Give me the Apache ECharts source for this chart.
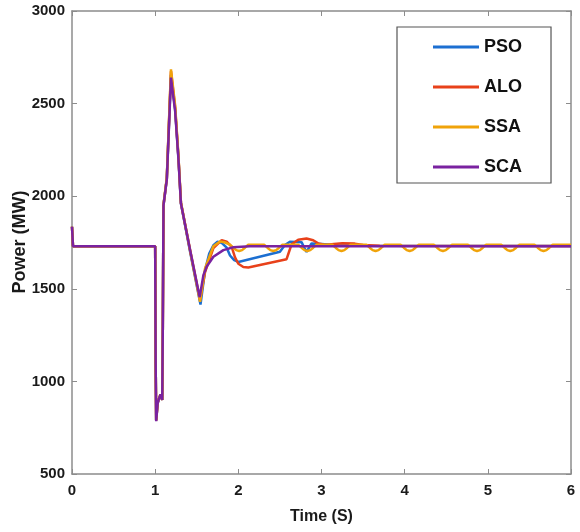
<!DOCTYPE html>
<html><head><meta charset="utf-8">
<script src="https://cdn.jsdelivr.net/npm/echarts@6/dist/echarts.min.js"></script>
<style>html,body{margin:0;padding:0;background:#fff}#c{width:580px;height:532px}</style>
</head><body><div id="c"></div><script>
// Tick values
const xTicks = [0, 1, 2, 3, 4, 5, 6];
const yTicks = [500, 1000, 1500, 2000, 2500, 3000];
const seriesNames = ['PSO', 'ALO', 'SSA', 'SCA'];
const xTitle = 'Time (S)';
const yTitle = 'Power (MW)';

// [time (s), power (MW)]
const psoData = [[0,1835],[0.012,1730],[1.0,1730],[1.006,1100],[1.012,790],[1.03,885],[1.045,905],[1.065,930],[1.085,900],[1.092,1300],[1.1,1950],[1.14,2095],[1.19,2655],[1.2,2660],[1.24,2470],[1.28,2205],[1.31,1960],[1.42,1700],[1.545,1415],[1.6,1600],[1.65,1690],[1.7,1735],[1.75,1754],[1.8,1748],[1.86,1722],[1.9,1680],[1.95,1655],[2.0,1645],[2.5,1700],[2.56,1736],[2.62,1754],[2.76,1752],[2.8,1715],[2.82,1700],[2.85,1722],[2.88,1745],[3.0,1742],[3.2,1735],[3.4,1732],[6,1731]];

const aloData = [[0,1835],[0.012,1730],[1.0,1730],[1.006,1100],[1.012,790],[1.03,885],[1.045,905],[1.065,930],[1.085,900],[1.092,1300],[1.1,1950],[1.14,2095],[1.19,2675],[1.2,2680],[1.24,2480],[1.28,2210],[1.31,1965],[1.42,1710],[1.54,1440],[1.6,1590],[1.7,1720],[1.8,1763],[1.86,1755],[1.92,1727],[1.96,1670],[2.0,1635],[2.06,1618],[2.12,1615],[2.58,1660],[2.61,1700],[2.64,1740],[2.72,1765],[2.82,1772],[2.9,1762],[2.96,1745],[3.05,1736],[3.15,1742],[3.25,1746],[3.4,1744],[3.5,1736],[3.7,1732],[6,1731]];

const ssaData = [[0,1835],[0.012,1730],[1.0,1730],[1.006,1100],[1.012,790],[1.03,885],[1.045,905],[1.065,930],[1.085,900],[1.092,1300],[1.1,1955],[1.14,2100],[1.19,2685],[1.2,2688],[1.24,2490],[1.28,2215],[1.31,1965],[1.42,1705],[1.54,1430],[1.6,1610],[1.7,1730],[1.78,1756],[1.84,1750],
 [1.9,1738],[1.94,1722],[1.975,1709],[2.01,1704],[2.045,1709],[2.08,1722],[2.12,1738],
 [2.31,1738],[2.35,1722],[2.385,1709],[2.42,1704],[2.455,1709],[2.49,1722],[2.53,1738],
 [2.72,1738],[2.76,1722],[2.795,1709],[2.83,1704],[2.865,1709],[2.9,1722],[2.94,1738],
 [3.13,1738],[3.17,1722],[3.205,1709],[3.24,1704],[3.275,1709],[3.31,1722],[3.35,1738],
 [3.54,1738],[3.58,1722],[3.615,1709],[3.65,1704],[3.685,1709],[3.72,1722],[3.76,1738],
 [3.95,1738],[3.99,1722],[4.025,1709],[4.06,1704],[4.095,1709],[4.13,1722],[4.17,1738],
 [4.35,1738],[4.39,1722],[4.425,1709],[4.46,1704],[4.495,1709],[4.53,1722],[4.57,1738],
 [4.76,1738],[4.8,1722],[4.835,1709],[4.87,1704],[4.905,1709],[4.94,1722],[4.98,1738],
 [5.16,1738],[5.2,1722],[5.235,1709],[5.27,1704],[5.305,1709],[5.34,1722],[5.38,1738],
 [5.56,1738],[5.6,1722],[5.635,1709],[5.67,1704],[5.705,1709],[5.74,1722],[5.78,1738],
 [6,1738]];

const scaData = [[0,1835],[0.012,1730],[1.0,1730],[1.006,1100],[1.012,785],[1.03,880],[1.045,905],[1.065,930],[1.085,900],[1.092,1300],[1.1,1950],[1.14,2090],[1.19,2640],[1.2,2645],[1.24,2460],[1.28,2200],[1.31,1960],[1.42,1710],[1.535,1455],[1.58,1574],[1.62,1620],[1.7,1673],[1.82,1709],[1.94,1724],[2.14,1730],[6,1730]];

const colors = ['#1c6fd1', '#e8411a', '#f0a30a', '#7a22a0'];
const allData = [psoData, aloData, ssaData, scaData];

const FONT = '"Liberation Sans", Arial, sans-serif';
const axisCol = '#8c8c8c';

function xAx(pos, showLabel) {
  return {
    type: 'value', position: pos, min: xTicks[0], max: xTicks[xTicks.length - 1], interval: 1,
    axisLine: { show: true, onZero: false, lineStyle: { color: axisCol, width: 1.5 } },
    axisTick: { show: true, inside: true, length: 5, lineStyle: { color: axisCol, width: 1 } },
    axisLabel: { show: showLabel, color: '#1a1a1a', fontWeight: 'bold', fontSize: 15, margin: 9, fontFamily: FONT,
      formatter: v => String(v) },
    splitLine: { show: false },
    name: showLabel ? xTitle : '', nameLocation: 'middle', nameGap: 35,
    nameTextStyle: { color: '#1a1a1a', fontWeight: 'bold', fontSize: 16, fontFamily: FONT }
  };
}
function yAx(pos, showLabel) {
  return {
    type: 'value', position: pos, min: yTicks[0], max: yTicks[yTicks.length - 1], interval: 500,
    axisLine: { show: true, onZero: false, lineStyle: { color: axisCol, width: 1.5 } },
    axisTick: { show: true, inside: true, length: 5, lineStyle: { color: axisCol, width: 1 } },
    axisLabel: { show: showLabel, color: '#1a1a1a', fontWeight: 'bold', fontSize: 15, margin: 7, fontFamily: FONT,
      formatter: v => String(v) },
    splitLine: { show: false }
  };
}

const chart = echarts.init(document.getElementById('c'), null, { renderer: 'canvas' });
chart.setOption({
  animation: false,
  backgroundColor: '#fff',
  grid: { left: 72, right: 9, top: 11, bottom: 58, containLabel: false, outerBoundsMode: 'none' },
  xAxis: [xAx('bottom', true), xAx('top', false)],
  yAxis: [yAx('left', true), yAx('right', false)],
  graphic: [{
    type: 'text', x: 20, y: 242, rotation: Math.PI / 2,
    style: { text: yTitle, fill: '#1a1a1a', font: 'bold 18px ' + FONT, textAlign: 'center', textVerticalAlign: 'middle' }
  }],
  legend: {
    data: seriesNames, orient: 'vertical', left: 397, top: 27,
    padding: [11, 29, 7, 36], itemGap: 22, itemWidth: 46, itemHeight: 3, icon: 'rect',
    borderColor: '#555', borderWidth: 1.2, backgroundColor: '#fff',
    textStyle: { color: '#111', fontWeight: 'bold', fontSize: 18, fontFamily: FONT }
  },
  series: seriesNames.map((n, i) => ({
    name: n, type: 'line', data: allData[i], xAxisIndex: 0, yAxisIndex: 0,
    showSymbol: false, symbol: 'none', smooth: false,
    lineStyle: { color: colors[i], width: 2.5 }, itemStyle: { color: colors[i] }
  }))
});
</script></body></html>
